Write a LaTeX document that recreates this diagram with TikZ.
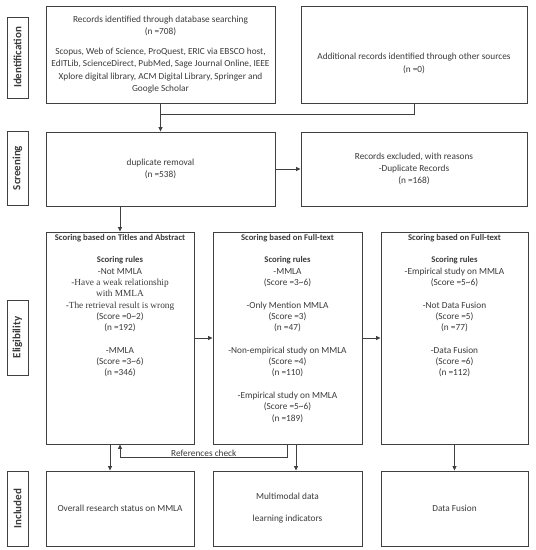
\documentclass[tikz,border=0pt]{standalone}
\usepackage{fontspec}
\setmainfont{Carlito}
\newfontfamily\camfont{Liberation Serif}
\usetikzlibrary{arrows.meta}

\definecolor{linegray}{HTML}{404040}
\definecolor{textgray}{HTML}{3A3A3A}

\newcommand{\hd}[1]{{\fontsize{8.7}{11.3}\selectfont\bfseries #1}}

\tikzset{
  box/.style={draw=linegray, line width=0.9pt, inner sep=0pt, align=center,
    text=textgray, font=\fontsize{9.3}{12.4}\selectfont},
  phase/.style={draw=linegray, line width=0.9pt, inner sep=0pt, minimum height=21pt,
    rotate=90, text=textgray, font=\fontsize{11}{13}\selectfont\bfseries},
  rules/.style={inner sep=0pt, align=center, text=textgray,
    font=\fontsize{9.3}{11.3}\selectfont},
  link/.style={draw=linegray, line width=0.8pt},
  arr/.style={link, -{Triangle[length=4.5pt,width=4pt]}},
}

\begin{document}
\begin{tikzpicture}[x=1pt, y=-1pt]
\useasboundingbox (0,0) rectangle (536,550);

% phase labels on the left
\node[phase, minimum width=81pt] (pid) at (17.5,57.5) {Identification};
\node[phase, minimum width=74pt] (psc) at (17.5,168) {Screening};
\node[phase, minimum width=75pt] (pel) at (17.5,337.5) {Eligibility};
\node[phase, minimum width=75pt] (pin) at (17.5,508.5) {Included};

% identification
\node[box, minimum width=229pt, minimum height=97pt] (recdb) at (160.5,54.5)
  {Records identified through database searching\\(n =708)\\[7.6pt]
   Scopus, Web of Science, ProQuest, ERIC via EBSCO host,\\
   EdITLib, ScienceDirect, PubMed, Sage Journal Online, IEEE\\
   Xplore digital library, ACM Digital Library, Springer and\\
   Google Scholar};
\node[box, minimum width=226pt, minimum height=97pt] (recoth) at (414,54.5) {};
\node[rules, font=\fontsize{9.3}{12.8}\selectfont] (recothtxt) at (414,63.5)
  {Additional records identified through other sources\\(n =0)};

% screening
\node[box, minimum width=229pt, minimum height=74pt] (dup) at (160.5,169)
  {duplicate removal\\(n =538)};
\node[box, minimum width=226pt, minimum height=74pt] (excl) at (414,169)
  {Records excluded, with reasons\\-Duplicate Records\\(n =168)};

% eligibility
\node[box, minimum width=148pt, minimum height=212pt] (title) at (120,338) {};
\node[box, minimum width=149pt, minimum height=212pt] (full) at (287.5,338) {};
\node[box, minimum width=147pt, minimum height=212pt] (fusion) at (454.5,338) {};

\node[rules, anchor=north] (titletxt) at ([yshift=-2.5pt]title.north)
  {\hd{Scoring based on Titles and Abstract}\\[11.3pt]
   \hd{Scoring rules}\\-Not MMLA\\
   {\camfont -Have a weak relationship}\\{\camfont with MMLA}\\
   {\camfont -The retrieval result is wrong}\\
   (Score =0\textasciitilde 2)\\(n =192)\\[11.3pt]
   -MMLA\\(Score =3\textasciitilde 6)\\(n =346)};
\node[rules, anchor=north] (fulltxt) at ([yshift=-2.5pt]full.north)
  {\hd{Scoring based on Full-text}\\[11.3pt]
   \hd{Scoring rules}\\-MMLA\\(Score =3\textasciitilde 6)\\[11.3pt]
   -Only Mention MMLA\\(Score =3)\\(n =47)\\[11.3pt]
   -Non-empirical study on MMLA\\(Score =4)\\(n =110)\\[11.3pt]
   -Empirical study on MMLA\\(Score =5\textasciitilde 6)\\(n =189)};
\node[rules, anchor=north] (fusiontxt) at ([yshift=-2.5pt]fusion.north)
  {\hd{Scoring based on Full-text}\\[11.3pt]
   \hd{Scoring rules}\\-Empirical study on MMLA\\(Score =5\textasciitilde 6)\\[11.3pt]
   -Not Data Fusion\\(Score =5)\\(n =77)\\[11.3pt]
   -Data Fusion\\(Score =6)\\(n =112)};

% included
\node[box, minimum width=148pt, minimum height=75pt] (overall) at (120,508.5)
  {Overall research status on MMLA};
\node[box, minimum width=149pt, minimum height=75pt] (indic) at (287.5,508.5)
  {Multimodal data\\[9.6pt]learning indicators};
\node[box, minimum width=147pt, minimum height=75pt] (datafus) at (454.5,508.5)
  {Data Fusion};

% connectors
\coordinate (join) at (recdb.south |- 0,114);
\draw[link] (recoth.south) |- (join);
\draw[arr] (recdb.south) -- (dup.north);
\draw[arr] (dup.east) -- (excl.west);
\draw[arr] (dup.south -| title.north) -- (title.north);
\draw[arr] (title.east) -- (full.west);
\draw[arr] (full.east) -- (fusion.west);
\draw[arr] ([xshift=-10pt]title.south) -- ([xshift=-10pt]overall.north);
\coordinate (refr) at (full.south |- 0,457);
\coordinate (refl) at (title.south |- 0,457);
\draw[arr] (full.south) -- (refr) -- node[above=0.5pt, inner sep=0pt, text=textgray,
  font=\fontsize{9.3}{11}\selectfont] (refchk) {References check} (refl) -- (title.south);
\draw[arr] ([xshift=8.5pt]full.south) -- ([xshift=8.5pt]indic.north);
\draw[arr] (fusion.south) -- (datafus.north);
\end{tikzpicture}
\end{document}
